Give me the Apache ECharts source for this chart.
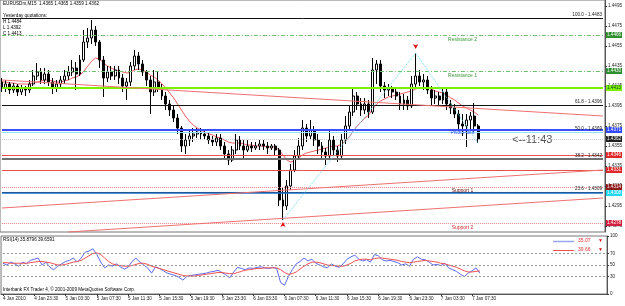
<!DOCTYPE html>
<html><head><meta charset="utf-8">
<script src="https://cdn.jsdelivr.net/npm/echarts@6/dist/echarts.min.js"></script>
<style>html,body{margin:0;padding:0;background:#fff}#c{width:625px;height:306px}</style>
</head><body><div id="c"></div>
<script>
// ---------- data ----------
const timeLabels = ["4 Jan 2010","4 Jan 23:30","5 Jan 03:30","5 Jan 07:30","5 Jan 11:30","5 Jan 15:30","5 Jan 19:30","5 Jan 23:30","6 Jan 03:30","6 Jan 07:30","6 Jan 11:30","6 Jan 15:30","6 Jan 19:30","6 Jan 23:30","7 Jan 03:30","7 Jan 07:30"];
const slotsTotal = 155; // bar slots incl. empty right shift
const open = [1.4419,1.4413,1.4417,1.4411,1.4415,1.4409,1.4413,1.4411,1.4417,1.4425,
1.4429,1.4421,1.4427,1.4419,1.4413,1.4417,1.4421,1.4425,1.4429,1.4433,
1.4427,1.4441,1.4459,1.4463,1.4471,1.4459,1.4441,1.4423,1.4429,1.4425,
1.4431,1.4423,1.4415,1.4419,1.4435,1.4445,1.4437,1.4429,1.4421,1.4409,
1.4419,1.4413,1.4405,1.4397,1.4391,1.4383,1.4373,1.4355,1.4361,1.4365,
1.4367,1.4369,1.4367,1.4365,1.4361,1.4359,1.4363,1.4355,1.4347,1.4341,
1.4351,1.4361,1.4355,1.4351,1.4355,1.4353,1.4355,1.4357,1.4355,1.4353,
1.4355,1.4351,1.4301,1.4295,1.4315,1.4331,1.4345,1.4355,1.4373,1.4365,
1.4371,1.4361,1.4355,1.4349,1.4345,1.4361,1.4351,1.4345,1.4361,1.4375,
1.4389,1.4405,1.4397,1.4391,1.4397,1.4389,1.4431,1.4437,1.4415,1.4411,
1.4413,1.4409,1.4405,1.4397,1.4401,1.4395,1.4417,1.4425,1.4419,1.4421,
1.4411,1.4403,1.4405,1.4401,1.4409,1.4397,1.4393,1.4387,1.4377,1.4375,
1.4381,1.4385,1.4375];
const close = [1.4413,1.4417,1.4411,1.4415,1.4409,1.4413,1.4411,1.4417,1.4425,1.4429,
1.4421,1.4427,1.4419,1.4413,1.4417,1.4421,1.4425,1.4429,1.4433,1.4427,
1.4441,1.4459,1.4463,1.4471,1.4459,1.4441,1.4423,1.4429,1.4425,1.4431,
1.4423,1.4415,1.4419,1.4435,1.4445,1.4437,1.4429,1.4421,1.4409,1.4419,
1.4413,1.4405,1.4397,1.4391,1.4383,1.4373,1.4355,1.4361,1.4365,1.4367,
1.4369,1.4367,1.4365,1.4361,1.4359,1.4363,1.4355,1.4347,1.4341,1.4351,
1.4361,1.4355,1.4351,1.4355,1.4353,1.4355,1.4357,1.4355,1.4353,1.4355,
1.4351,1.4301,1.4295,1.4315,1.4331,1.4345,1.4355,1.4373,1.4365,1.4371,
1.4361,1.4355,1.4349,1.4345,1.4361,1.4351,1.4345,1.4361,1.4375,1.4389,
1.4405,1.4397,1.4391,1.4397,1.4389,1.4431,1.4437,1.4415,1.4411,1.4413,
1.4409,1.4405,1.4397,1.4401,1.4395,1.4417,1.4425,1.4419,1.4421,1.4411,
1.4403,1.4405,1.4401,1.4409,1.4397,1.4393,1.4387,1.4377,1.4375,1.4381,
1.4385,1.4375,1.4362];
const low = [1.4409,1.4409,1.4407,1.4408,1.4405,1.4406,1.4405,1.4408,1.4415,1.4421,
1.4417,1.4417,1.4415,1.4407,1.4409,1.4413,1.4417,1.4421,1.4425,1.4411,
1.4425,1.4439,1.4453,1.4457,1.4455,1.4433,1.4404,1.4419,1.4421,1.4421,
1.4417,1.4409,1.4401,1.4415,1.4431,1.4431,1.4425,1.4415,1.4387,1.4405,
1.4409,1.4401,1.4391,1.4385,1.4379,1.4367,1.4349,1.4347,1.4355,1.4359,
1.4363,1.4361,1.4361,1.4357,1.4355,1.4355,1.4351,1.4343,1.4336,1.4339,
1.4347,1.4351,1.4343,1.4349,1.4349,1.4351,1.4351,1.4351,1.4347,1.4351,
1.4345,1.4295,1.4281,1.4291,1.4311,1.4329,1.4341,1.4351,1.4359,1.4361,
1.4355,1.4347,1.4343,1.4336,1.4343,1.4345,1.4339,1.4341,1.4357,1.4371,
1.4385,1.4391,1.4385,1.4387,1.4383,1.4387,1.4417,1.4409,1.4403,1.4405,
1.4403,1.4401,1.4391,1.4391,1.4391,1.4393,1.4413,1.4415,1.4411,1.4407,
1.4395,1.4397,1.4395,1.4397,1.4391,1.4387,1.4383,1.4371,1.4365,1.4354,
1.4371,1.4369,1.4358];
const high = [1.4423,1.4421,1.4419,1.4418,1.4417,1.4416,1.4415,1.4421,1.4431,1.4438,
1.4433,1.4433,1.4431,1.4423,1.4421,1.4425,1.4431,1.4435,1.4441,1.4439,
1.4446,1.4471,1.4473,1.4481,1.4475,1.4461,1.4445,1.4435,1.4435,1.4435,
1.4435,1.4427,1.4423,1.4439,1.4451,1.4449,1.4441,1.4431,1.4425,1.4431,
1.4429,1.4417,1.4409,1.4401,1.4395,1.4387,1.4375,1.4367,1.4371,1.4373,
1.4373,1.4373,1.4371,1.4369,1.4365,1.4367,1.4367,1.4359,1.4351,1.4355,
1.4367,1.4365,1.4361,1.4361,1.4359,1.4359,1.4361,1.4361,1.4359,1.4357,
1.4357,1.4353,1.4313,1.4321,1.4337,1.4351,1.4363,1.4381,1.4377,1.4381,
1.4375,1.4367,1.4359,1.4353,1.4371,1.4365,1.4355,1.4367,1.4385,1.4395,
1.4413,1.4409,1.4403,1.4403,1.4401,1.4443,1.4441,1.4441,1.4419,1.4417,
1.4415,1.4413,1.4409,1.4407,1.4405,1.4425,1.4448,1.4431,1.4427,1.4425,
1.4415,1.4411,1.4409,1.4413,1.4413,1.4401,1.4397,1.4391,1.4387,1.4387,
1.4389,1.4398,1.4377];
const maValues = [1.4419,1.4419,1.4418,1.4418,1.4417,1.4417,1.4417,1.4417,1.4418,1.4419,
1.4420,1.4421,1.4421,1.4420,1.4419,1.4419,1.4420,1.4421,1.4423,1.4424,
1.4426,1.4430,1.4435,1.4440,1.4443,1.4442,1.4438,1.4435,1.4433,1.4431,
1.4430,1.4429,1.4428,1.4429,1.4431,1.4432,1.4431,1.4429,1.4426,1.4424,
1.4421,1.4417,1.4413,1.4408,1.4403,1.4397,1.4391,1.4385,1.4380,1.4376,
1.4373,1.4371,1.4369,1.4367,1.4366,1.4364,1.4363,1.4361,1.4359,1.4358,
1.4358,1.4358,1.4357,1.4356,1.4356,1.4355,1.4355,1.4355,1.4354,1.4354,
1.4354,1.4351,1.4346,1.4341,1.4339,1.4340,1.4343,1.4346,1.4348,1.4349,
1.4350,1.4351,1.4352,1.4353,1.4354,1.4355,1.4355,1.4357,1.4360,1.4364,
1.4370,1.4375,1.4379,1.4383,1.4386,1.4392,1.4397,1.4400,1.4402,1.4404,
1.4405,1.4406,1.4407,1.4408,1.4409,1.4410,1.4412,1.4413,1.4413,1.4413,
1.4412,1.4410,1.4409,1.4408,1.4406,1.4403,1.4401,1.4398,1.4395,1.4393,
1.4391,1.4389,1.4386];
const rsiValues = [53,50,55,52,48,55,52,58,60,62,
50,55,46,42,48,52,56,58,62,55,
62,72,74,78,68,55,45,50,48,52,
47,43,46,56,62,55,50,45,36,47,
44,40,36,34,32,29,24,30,32,33,
34,35,36,38,39,41,37,33,28,38,
46,44,42,45,44,46,47,45,44,46,
44,20,15,30,42,52,56,62,57,60,
53,50,47,45,52,48,46,52,60,64,
67,60,57,59,55,68,66,59,57,58,
56,54,50,52,48,60,64,60,59,55,
50,51,49,53,45,42,39,34,30,36,
40,45,35.9];
const rsiMaValues = [54,54,53,53,53,53,53,54,55,56,
56,55,54,52,50,50,51,53,55,56,
58,62,66,70,71,68,62,56,52,50,
49,48,48,49,51,53,53,51,48,46,
44,42,40,38,36,34,32,31,31,31,
32,33,34,35,36,37,37,36,35,35,
37,39,41,42,43,44,44,45,45,45,
45,42,37,34,35,38,43,48,52,55,
55,54,52,50,49,49,48,48,50,53,
57,59,60,60,59,61,62,62,61,60,
59,58,56,55,54,55,56,57,58,57,
56,55,53,52,50,48,46,43,40,38,
38,39,39.7];
const priceTicks = [1.4275,1.4295,1.4315,1.4335,1.4355,1.4375,1.4395,1.4415,1.4435,1.4455,1.4475,1.4495];
const rsiTicks = [0,30,50,70,100];
const rsiLevels = [30,50,70];
const fibNames = ["100.0","61.8","50.0","38.2","23.6"];
const fibLevels = [1.4483,1.4396,1.4369,1.4342,1.4309];
const resistanceLevels = [1.4466,1.4430];
const pivotLevel = 1.4371;
const supportLevels = [1.4314,1.4278];
const prevCloseLevel = 1.4413;
const bidLevel = 1.4362;
const redLevels = [1.4346,1.4331];
const blueLevel = 1.4308;
// trend lines: [slotA, priceA, slotB, priceB]
const trendLines = [[0,1.4421,154,1.4385],[0,1.4293,154,1.4331],[17,1.4269,154,1.4303]];
const zigzag = [[72,1.4281],[106,1.4448],[122,1.4358]];
const headerText = "EURUSDm,M15  1.4365 1.4365 1.4359 1.4362";
const yesterdayText = ["Yesterday quotations:","H 1.4484","L 1.4392","C 1.4413"];

// ---------- chart ----------
const FS = 4.6, FF = 'Liberation Sans, Arial, sans-serif';
const fmt = v => v.toFixed(4);
const lastSlot = slotsTotal - 1;
const categories = Array.from({length: slotsTotal}, (_, i) => String(i));
const candles = open.map((o, i) => [o, close[i], low[i], high[i]]);

const none = {show:false};
const fibText = i => ({show:true, position:'insideEndTop', distance:1, formatter: fibNames[i] + ' - ' + fmt(fibLevels[i]), color:'#222', fontSize:FS, fontFamily:FF});

function hline(v, color, width, type, label) {
  return [
    {coord:[0, v], lineStyle:{color:color, width:width, type:type}, label:label || none},
    {coord:[lastSlot, v]}
  ];
}
function boxText(v, bg, fg) {
  return {show:true, position:'end', distance:3, formatter: fmt(v), backgroundColor:bg, color:fg||'#fff',
    fontSize:FS, fontFamily:FF, padding:[1,1,0,1]};
}

const markLines = [
  hline(fibLevels[0], '#111', 1, 'solid', fibText(0)),
  hline(resistanceLevels[0], '#6cc06c', 1, [4,2,1,2], boxText(resistanceLevels[0], '#2f8f2f')),
  hline(resistanceLevels[1], '#6cc06c', 1, [4,2,1,2], boxText(resistanceLevels[1], '#2f8f2f')),
  hline(prevCloseLevel, '#7cf000', 2, 'solid', boxText(prevCloseLevel, '#7cf000', '#143')),
  hline(fibLevels[1], '#111', 1, 'solid', fibText(1)),
  hline(fibLevels[2], '#8fe3f5', 1, 'solid', fibText(2)),
  hline(pivotLevel, '#3b4dff', 2, 'solid', boxText(pivotLevel, '#3048ff')),
  hline(bidLevel, '#c8c8c8', 1, 'dotted', boxText(bidLevel, '#222')),
  hline(redLevels[0], '#e85050', 1, 'solid', boxText(redLevels[0], '#e02828')),
  hline(fibLevels[3], '#707070', 2, 'solid', fibText(3)),
  hline(redLevels[1], '#e85050', 1, 'solid', boxText(redLevels[1], '#e02828')),
  hline(supportLevels[0], '#f08a8a', 1, 'dotted', boxText(supportLevels[0], '#8e1c1c')),
  hline(fibLevels[4], '#222', 1, 'solid', fibText(4)),
  hline(blueLevel, '#1a6cc4', 1.5, 'solid', boxText(blueLevel, '#22d8f0')),
  hline(supportLevels[1], '#f08a8a', 1, 'dotted', boxText(supportLevels[1], '#d42040'))
];
trendLines.forEach(t => markLines.push([
  {coord:[t[0], t[1]], lineStyle:{color:'#f07070', width:1, type:'solid'}, label: none},
  {coord:[t[2], t[3]]}
]));
for (let i = 0; i < zigzag.length - 1; i++) {
  markLines.push([
    {coord: zigzag[i], lineStyle:{color:'#6ad8f0', width:1, type:'dotted'}, label: none},
    {coord: zigzag[i+1]}
  ]);
}

function txt(slot, price, text, color) {
  return {coord:[slot, price], symbol:'rect', symbolSize:[1,1], itemStyle:{color:'rgba(0,0,0,0)'},
    label:{show:true, position:'inside', formatter:text, color:color, fontSize:5, fontFamily:FF}};
}
const markPoints = [
  txt(118, resistanceLevels[0] - 0.00045, 'Resistance 2', '#3a9a3a'),
  txt(118, resistanceLevels[1] - 0.00045, 'Resistance 1', '#3a9a3a'),
  txt(118, pivotLevel - 0.0003, 'Pivot Point', '#3050ff'),
  txt(118, supportLevels[0] - 0.0004, 'Support 1', '#6a1010'),
  txt(118, supportLevels[1] - 0.00045, 'Support 2', '#d03030'),
  {coord:[zigzag[1][0], zigzag[1][1] + 0.0004], symbol:'arrow', symbolSize:[4,5], symbolRotate:180, itemStyle:{color:'#e01010'}, label:none},
  {coord:[zigzag[0][0], zigzag[0][1] - 0.0002], symbol:'arrow', symbolSize:[4,5], itemStyle:{color:'#e01010'}, label:none}
];

const chart = echarts.init(document.getElementById('c'), null, {renderer:'canvas'});
chart.setOption({
  animation:false,
  backgroundColor:'#fff',
  grid:[
    {left:0, top:0, width:607, height:232, show:true, borderColor:'#777', borderWidth:1},
    {left:0, top:236, width:607, height:58, show:true, borderColor:'#777', borderWidth:1}
  ],
  xAxis:[
    {type:'category', gridIndex:0, data:categories, boundaryGap:true, axisLine:{show:false}, axisTick:{show:false}, axisLabel:{show:false}},
    {type:'category', gridIndex:1, data:categories, boundaryGap:true,
      axisLine:{show:true, lineStyle:{color:'#555'}},
      axisTick:{show:true, alignWithLabel:true, length:2, interval:(i) => i % 8 === 0 && i / 8 < timeLabels.length, lineStyle:{color:'#333'}},
      axisLabel:{show:true, interval:0, align:'left', margin:2, fontSize:FS, fontFamily:FF, color:'#222',
        formatter:(v, i) => (i % 8 === 0 && i / 8 < timeLabels.length) ? timeLabels[i / 8] : ''}}
  ],
  yAxis:[
    {type:'value', gridIndex:0, position:'right', min:1.4269, max:1.4501,
      axisLine:{show:true, lineStyle:{color:'#555'}}, splitLine:{show:false},
      axisTick:{show:true, length:2, customValues:priceTicks, lineStyle:{color:'#333'}},
      axisLabel:{show:true, margin:3, fontSize:FS, fontFamily:FF, color:'#222', customValues:priceTicks, formatter:v => fmt(v)}},
    {type:'value', gridIndex:1, position:'right', min:0, max:100,
      axisLine:{show:true, lineStyle:{color:'#555'}}, splitLine:{show:false},
      axisTick:{show:true, length:2, customValues:rsiTicks, lineStyle:{color:'#333'}},
      axisLabel:{show:true, margin:3, fontSize:FS, fontFamily:FF, color:'#222', customValues:rsiTicks}}
  ],
  series:[
    {type:'candlestick', name:'EURUSDm', xAxisIndex:0, yAxisIndex:0, data:candles, barWidth:2.4,
      itemStyle:{color:'#ffffff', color0:'#000000', borderColor:'#000000', borderColor0:'#000000', borderWidth:1},
      markLine:{silent:true, symbol:['none','none'], animation:false, data:markLines},
      markPoint:{silent:true, animation:false, data:markPoints}},
    {type:'line', name:'MA', xAxisIndex:0, yAxisIndex:0, data:maValues, symbol:'none', lineStyle:{color:'#f06060', width:1}, z:1},
    {type:'line', name:'RSI', xAxisIndex:1, yAxisIndex:1, data:rsiValues, symbol:'none', lineStyle:{color:'#5a6cf5', width:1},
      markLine:{silent:true, symbol:['none','none'], label:{show:false},
        data: rsiLevels.map(v => [{coord:[0, v], lineStyle:{color:'#999', width:1, type:[2,2]}}, {coord:[lastSlot, v]}])}},
    {type:'line', name:'RSI MA', xAxisIndex:1, yAxisIndex:1, data:rsiMaValues, symbol:'none', lineStyle:{color:'#f05050', width:1}}
  ],
  graphic:[
    {type:'text', left:3, top:1, style:{text:headerText, fontSize:FS, fontFamily:FF, fill:'#000'}},
    {type:'text', left:3, top:13, style:{text:yesterdayText[0], fontSize:FS, fontFamily:FF, fill:'#000'}},
    {type:'text', left:3, top:19, style:{text:yesterdayText[1], fontSize:FS, fontFamily:FF, fill:'#000'}},
    {type:'text', left:3, top:25, style:{text:yesterdayText[2], fontSize:FS, fontFamily:FF, fill:'#000'}},
    {type:'text', left:3, top:31, style:{text:yesterdayText[3], fontSize:FS, fontFamily:FF, fill:'#000'}},
    {type:'text', left:512, top:134, style:{text:'<--11:43', fontSize:11, fontFamily:FF, fill:'#555'}},
    {type:'text', left:3, top:237, style:{text:'RSI(14) 35.8796 39.6591', fontSize:FS, fontFamily:FF, fill:'#000'}},
    {type:'text', left:3, top:287, style:{text:'Interbank FX Trader 4, \u00a9 2001-2009 MetaQuotes Software Corp.', fontSize:FS, fontFamily:FF, fill:'#000'}},
    {type:'line', shape:{x1:553, y1:241.5, x2:574, y2:241.5}, style:{stroke:'#9aa6f0', lineWidth:1.5}},
    {type:'text', left:578, top:238.5, style:{text:'35.07', fontSize:5, fontFamily:FF, fill:'#e03030'}},
    {type:'text', left:598, top:238.5, style:{text:'\u25bc', fontSize:5, fontFamily:FF, fill:'#e01010'}},
    {type:'line', shape:{x1:553, y1:250.5, x2:574, y2:250.5}, style:{stroke:'#f05050', lineWidth:1}},
    {type:'text', left:578, top:247.5, style:{text:'39.66', fontSize:5, fontFamily:FF, fill:'#e03030'}},
    {type:'text', left:598, top:247.5, style:{text:'\u25bc', fontSize:5, fontFamily:FF, fill:'#e01010'}}
  ]
});
</script></body></html>
